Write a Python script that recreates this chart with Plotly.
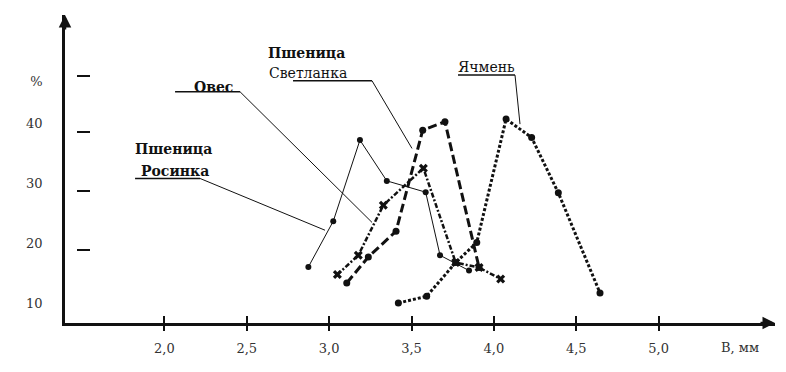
import plotly.graph_objects as go

# ---------------- data ----------------
rosinka_x = [2.874, 3.025, 3.187, 3.350, 3.586, 3.673, 3.849]
rosinka_y = [16.05, 23.67, 37.17, 30.38, 28.5, 18.0, 15.45]

oves_x = [3.050, 3.177, 3.329, 3.572, 3.768, 3.910, 4.041]
oves_y = [14.78, 18.0, 26.33, 32.5, 16.78, 15.95, 14.05]

svetlanka_x = [3.107, 3.238, 3.406, 3.568, 3.703, 3.910]
svetlanka_y = [13.38, 17.72, 22.0, 38.83, 40.22, 15.95]

yachmen_x = [3.420, 3.592, 3.768, 3.896, 4.074, 4.229, 4.391, 4.644]
yachmen_y = [10.05, 11.17, 16.78, 20.12, 40.67, 37.6, 28.4, 11.72]

x_ticks = [2.0, 2.5, 3.0, 3.5, 4.0, 4.5, 5.0]
x_ticktext = ["2,0", "2,5", "3,0", "3,5", "4,0", "4,5", "5,0"]
y_ticks = [10, 20, 30, 40, 46.9]
y_ticktext = ["10", "20", "30", "40", "%"]
y_dash_ticks = [18.8, 28.7, 38.5, 47.9]

X_RANGE = [1.397, 5.706]
Y_RANGE = [6.72, 58.0]

# pixel -> data helpers for callout placement (layout only)
def px2x(px):
    return 2 + (px - 164.3) / 164.8

def px2y(py):
    return 10 + (303 - py) / 6.0

FONT = "DejaVu Serif, Liberation Serif, Times New Roman, serif"
INK = "#111111"

fig = go.Figure()
fig.add_trace(go.Scatter(x=rosinka_x, y=rosinka_y, mode="lines+markers",
                         line=dict(color=INK, width=1),
                         marker=dict(symbol="circle", size=6, color=INK),
                         name="Пшеница Росинка"))
fig.add_trace(go.Scatter(x=oves_x, y=oves_y, mode="lines+markers",
                         line=dict(color=INK, width=2.5, dash="5px,2px,2px,2px"),
                         marker=dict(symbol="x", size=8, color=INK),
                         name="Овес"))
fig.add_trace(go.Scatter(x=svetlanka_x, y=svetlanka_y, mode="lines+markers",
                         line=dict(color=INK, width=3, dash="9px,4px"),
                         marker=dict(symbol="circle", size=7, color=INK),
                         name="Пшеница Светланка"))
fig.add_trace(go.Scatter(x=yachmen_x, y=yachmen_y, mode="lines+markers",
                         line=dict(color=INK, width=3, dash="3px,2px"),
                         marker=dict(symbol="circle", size=7, color=INK),
                         name="Ячмень"))
# invisible helper traces so the overlay tick axes get drawn
fig.add_trace(go.Scatter(x=[X_RANGE[0]], y=[Y_RANGE[0]], xaxis="x2", yaxis="y",
                         mode="markers", marker=dict(opacity=0), hoverinfo="skip"))
fig.add_trace(go.Scatter(x=[X_RANGE[0]], y=[Y_RANGE[0]], xaxis="x", yaxis="y2",
                         mode="markers", marker=dict(opacity=0), hoverinfo="skip"))

# callout labels
labels = [
    ("<b>Пшеница</b>", 306.7, 53.3),
    ("Светланка", 308, 73.3),
    ("<b>Овес</b>", 213.3, 86.7),
    ("Ячмень", 486.7, 66.7),
    ("<b>Пшеница</b>", 173.3, 149.3),
    ("<b>Росинка</b>", 175, 170.7),
]
for txt, px, py in labels:
    fig.add_annotation(x=px2x(px), y=px2y(py), text=txt, showarrow=False,
                       xref="x", yref="y", xanchor="center",
                       font=dict(family=FONT, size=14, color=INK))

# underline + leader lines
callouts = [
    ((135, 178.3), (200, 178.3), (325, 230)),
    ((175, 91.7), (240, 91.7), (372, 222.2)),
    ((293, 80.7), (372, 80.7), (412, 148.3)),
    ((458, 75), (515, 75), (520, 124)),
]
for a, b, c in callouts:
    fig.add_shape(type="line", xref="x", yref="y",
                  x0=px2x(a[0]), y0=px2y(a[1]), x1=px2x(b[0]), y1=px2y(b[1]),
                  line=dict(color=INK, width=1.5))
    fig.add_shape(type="line", xref="x", yref="y",
                  x0=px2x(b[0]), y0=px2y(b[1]), x1=px2x(c[0]), y1=px2y(c[1]),
                  line=dict(color=INK, width=1))

# axis title / arrows
fig.add_annotation(x=0.951, y=0, xref="paper", yref="paper", text="В, мм",
                   showarrow=False, yshift=-24, yanchor="middle", xanchor="center",
                   font=dict(family=FONT, size=13, color="#333333"))
fig.add_annotation(x=1, y=0, xref="paper", yref="paper", ax=-16, ay=0,
                   showarrow=True, arrowhead=2, arrowsize=1, arrowwidth=2.5,
                   arrowcolor=INK, text="")
fig.add_annotation(x=0, y=1, xref="paper", yref="paper", ax=0, ay=16,
                   showarrow=True, arrowhead=2, arrowsize=1, arrowwidth=2.5,
                   arrowcolor=INK, text="")

# the page body adds an 8px offset, so the figure is sized/margined to compensate
fig.update_layout(
    width=778, height=364,
    margin=dict(l=57, r=11, t=7, b=49),
    paper_bgcolor="white", plot_bgcolor="white",
    showlegend=False,
    font=dict(family=FONT, size=13, color="#333333"),
    xaxis=dict(range=X_RANGE, showgrid=False, zeroline=False,
               showline=True, linecolor=INK, linewidth=2.5,
               tickvals=x_ticks, ticktext=x_ticktext,
               ticks="outside", ticklen=5, tickwidth=1.5, tickcolor=INK,
               ticklabelstandoff=7),
    xaxis2=dict(range=X_RANGE, overlaying="x", anchor="y", side="bottom",
                showgrid=False, zeroline=False, showline=False,
                tickvals=x_ticks, showticklabels=False,
                ticks="inside", ticklen=7, tickwidth=1.5, tickcolor=INK),
    yaxis=dict(range=Y_RANGE, showgrid=False, zeroline=False,
               showline=True, linecolor=INK, linewidth=2.5,
               tickvals=y_ticks, ticktext=y_ticktext, ticks="",
               ticklabelstandoff=17),
    yaxis2=dict(range=Y_RANGE, overlaying="y", anchor="free",
                position=(90 - 65) / 710, side="left",
                showgrid=False, zeroline=False, showline=False,
                tickvals=y_dash_ticks, showticklabels=False,
                ticks="outside", ticklen=13, tickwidth=2, tickcolor=INK),
)

fig.write_html("out.html")
